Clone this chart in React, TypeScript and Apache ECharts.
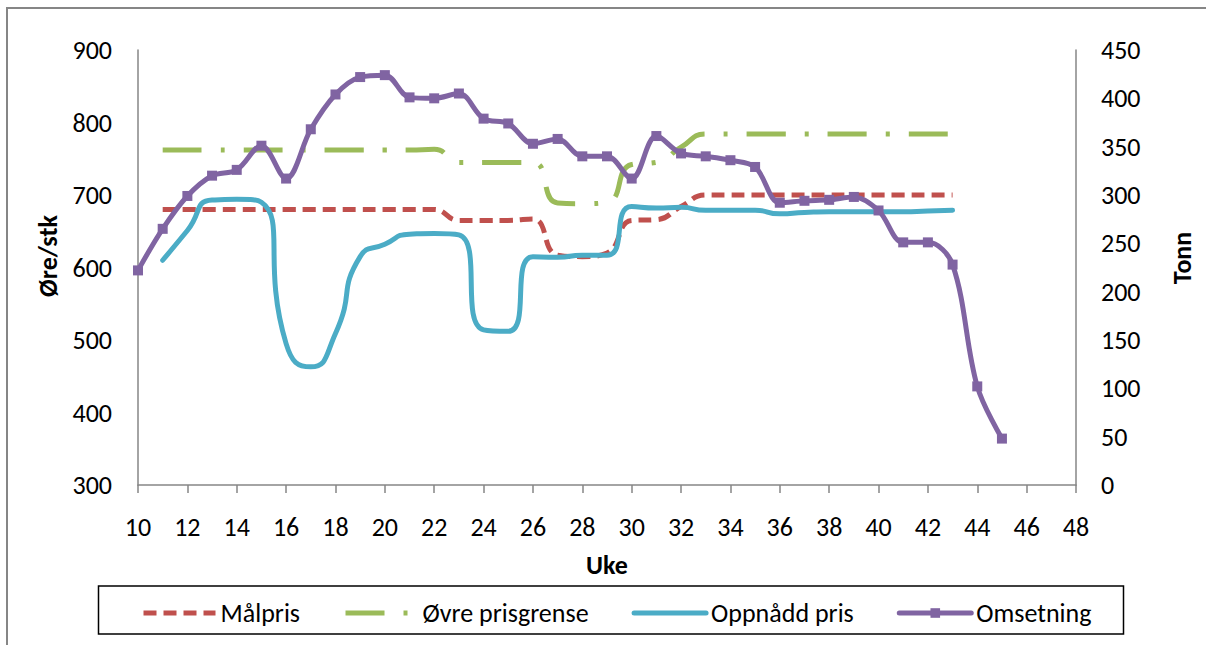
import React, { useEffect, useRef } from "react";
import * as echarts from "echarts";

const omsWeeks = [10, 11, 12, 13, 14, 15, 16, 17, 18, 19, 20, 21, 22, 23, 24, 25, 26, 27, 28, 29, 30, 31, 32, 33, 34, 35, 36, 37, 38, 39, 40, 41, 42, 43, 44, 45];
const omsetning = [222, 265, 299, 320, 326, 351, 317, 368, 404, 422, 424, 401, 400, 405, 379, 374, 353, 358, 340, 340, 317, 361, 343, 340, 336, 329, 292, 294, 295, 298, 284, 251, 251, 228, 102, 48];

const priceWeeks = [11, 12, 13, 14, 15, 16, 17, 18, 19, 20, 21, 22, 23, 24, 25, 26, 27, 28, 29, 30, 31, 32, 33, 34, 35, 36, 37, 38, 39, 40, 41, 42, 43];
const malpris = [680, 680, 680, 680, 680, 680, 680, 680, 680, 680, 680, 680, 665, 665, 665, 667, 617, 615, 620, 665, 666, 684, 700, 700, 700, 700, 700, 700, 700, 700, 700, 700, 700];
const ovrePrisgrense = [762, 762, 762, 762, 762, 762, 762, 762, 762, 762, 762, 763, 745, 745, 745, 745, 689, 688, 690, 742, 745, 766, 784, 784, 784, 784, 784, 784, 784, 784, 784, 784, 784];
const oppnaddPris = [610, 651, 693, 694, 690, 495, 463, 509, 615, 632, 646, 647, 645, 514, 512, 615, 614, 617, 617, 684, 682, 683, 679, 679, 679, 674, 676, 677, 677, 677, 677, 678, 679];

const leftAxisName = "Øre/stk";
const rightAxisName = "Tonn";
const xAxisName = "Uke";

const FONT = "Calibri, Carlito, 'Open Sans', sans-serif";

const pairs = (xs: number[], ys: number[]) => xs.map((x, i) => [x, ys[i]]);

export default function App() {
  const ref = useRef<HTMLDivElement>(null);
  useEffect(() => {
    document.body.style.margin = "0";
    if (!ref.current) return;
    const chart = echarts.init(ref.current, null, { renderer: "svg" });
    const axisLine = { show: true, lineStyle: { color: "#868686", width: 1.5 } };
    chart.setOption({
      animation: false,
      backgroundColor: "#fff",
      textStyle: { fontFamily: FONT },
      grid: { left: 138, right: 130, top: 50, bottom: 160, containLabel: false },
      xAxis: {
        type: "value",
        min: 10,
        max: 48,
        interval: 2,
        axisLine,
        axisTick: { show: true, inside: false, length: 8, lineStyle: { color: "#868686", width: 1.5 } },
        axisLabel: { color: "#000", fontSize: 26, margin: 29, fontFamily: FONT },
        splitLine: { show: false },
      },
      yAxis: [
        {
          type: "value",
          min: 300,
          max: 900,
          interval: 100,
          position: "left",
          axisLine,
          axisTick: { show: false },
          axisLabel: { color: "#000", fontSize: 26, margin: 26, fontFamily: FONT },
          splitLine: { show: false },
        },
        {
          type: "value",
          min: 0,
          max: 450,
          interval: 50,
          position: "right",
          axisLine,
          axisTick: { show: false },
          axisLabel: { color: "#000", fontSize: 26, margin: 25, fontFamily: FONT },
          splitLine: { show: false },
        },
      ],
      legend: {
        left: 136,
        top: 595,
        itemWidth: 72,
        itemHeight: 12,
        itemGap: 43,
        lineStyle: { width: 5 },
        textStyle: { color: "#000", fontSize: 26, fontFamily: FONT },
        data: [
          { name: "Målpris", itemStyle: { opacity: 0 } },
          { name: "Øvre prisgrense", itemStyle: { opacity: 0 } },
          { name: "Oppnådd pris", itemStyle: { opacity: 0 } },
          { name: "Omsetning" },
        ],
      },
      graphic: [
        {
          type: "rect",
          shape: { x: 7, y: 8, width: 1220, height: 660 },
          style: { fill: "none", stroke: "#868686", lineWidth: 2 },
          silent: true,
          z: -10,
        },
        {
          type: "rect",
          shape: { x: 98.5, y: 586, width: 1025, height: 48 },
          style: { fill: "none", stroke: "#000", lineWidth: 1.5 },
          silent: true,
        },
        {
          type: "text",
          x: 48,
          y: 256,
          rotation: Math.PI / 2,
          style: { text: leftAxisName, font: `bold 26px ${FONT}`, fill: "#000", align: "center", verticalAlign: "middle" },
        },
        {
          type: "text",
          x: 1182,
          y: 258,
          rotation: Math.PI / 2,
          style: { text: rightAxisName, font: `bold 26px ${FONT}`, fill: "#000", align: "center", verticalAlign: "middle" },
        },
        {
          type: "text",
          x: 607,
          y: 565,
          style: { text: xAxisName, font: `bold 26px ${FONT}`, fill: "#000", align: "center", verticalAlign: "middle" },
        },
      ],
      series: [
        {
          name: "Målpris",
          type: "line",
          yAxisIndex: 0,
          data: pairs(priceWeeks, malpris),
          smooth: 0.5,
          showSymbol: false,
          symbol: "none",
          color: "#C0504D",
          lineStyle: { color: "#C0504D", width: 5, type: [13, 7] },
          z: 2,
        },
        {
          name: "Øvre prisgrense",
          type: "line",
          yAxisIndex: 0,
          data: pairs(priceWeeks, ovrePrisgrense),
          smooth: 0.55,
          showSymbol: false,
          symbol: "none",
          color: "#9BBB59",
          lineStyle: { color: "#9BBB59", width: 5, type: [39, 19, 4, 19] },
          z: 2,
        },
        {
          name: "Oppnådd pris",
          type: "line",
          yAxisIndex: 0,
          data: pairs(priceWeeks, oppnaddPris),
          smooth: 0.6,
          showSymbol: false,
          symbol: "none",
          color: "#4BACC6",
          lineStyle: { color: "#4BACC6", width: 5, cap: "round" },
          z: 3,
        },
        {
          name: "Omsetning",
          type: "line",
          yAxisIndex: 1,
          data: pairs(omsWeeks, omsetning),
          smooth: 0.35,
          symbol: "rect",
          symbolSize: 10,
          showSymbol: true,
          color: "#8064A2",
          itemStyle: { color: "#8064A2" },
          lineStyle: { color: "#8064A2", width: 5, cap: "round" },
          z: 4,
        },
      ],
    });
    return () => chart.dispose();
  }, []);
  return <div ref={ref} style={{ width: 1206, height: 645 }} />;
}
